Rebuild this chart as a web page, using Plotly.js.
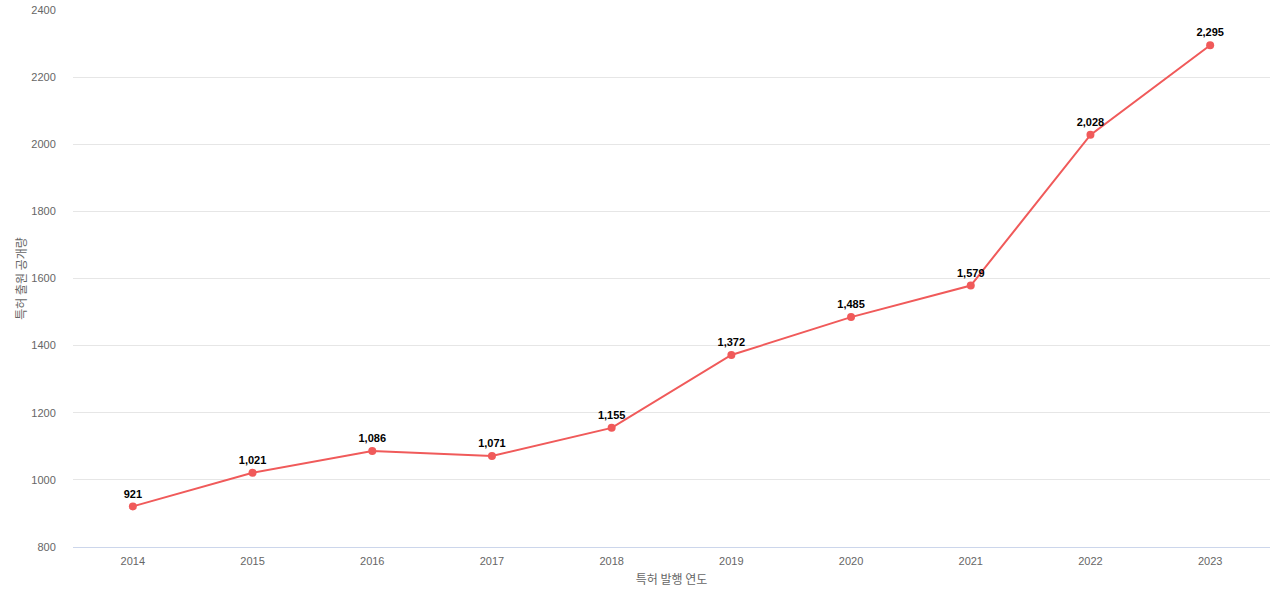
<!DOCTYPE html>
<html><head><meta charset="utf-8">
<script src="https://cdn.plot.ly/plotly-3.0.1.min.js"></script>
<style>html,body{margin:0;padding:0;background:#fff}#chart{width:1280px;height:600px}</style>
</head><body><div id="chart"></div>
<script>
const years = ['2014','2015','2016','2017','2018','2019','2020','2021','2022','2023'];
const counts = [921, 1021, 1086, 1071, 1155, 1372, 1485, 1579, 2028, 2295];
const xTitle = '특허 발행 연도';
const yTitle = '특허 출원 공개량';

const labels = counts.map(v => v.toLocaleString('en-US'));

Plotly.newPlot('chart', [{
  x: years, y: counts, type: 'scatter', mode: 'lines+markers+text',
  text: labels, textposition: 'top center',
  textfont: {family: 'Liberation Sans, Arial, sans-serif', size: 11, color: '#000', weight: 'bold'},
  line: {color: '#f05a5a', width: 2},
  marker: {color: '#f05a5a', size: 8},
  cliponaxis: false, hoverinfo: 'x+y'
}], {
  width: 1280, height: 600,
  margin: {l: 73, r: 10, t: 10, b: 53},
  paper_bgcolor: '#fff', plot_bgcolor: '#fff',
  font: {family: 'Liberation Sans, Arial, sans-serif', color: '#666666', size: 11},
  showlegend: false,
  xaxis: {
    type: 'category', range: [-0.5, 9.5],
    showgrid: false, showline: true, linecolor: '#ccd6eb', linewidth: 1,
    ticks: 'outside', ticklen: 4, tickcolor: 'rgba(0,0,0,0)',
    tickfont: {size: 11, color: '#666666'},
    title: {text: xTitle, font: {family: 'Noto Sans CJK KR, sans-serif', size: 12, color: '#666666'}, standoff: 9},
    zeroline: false
  },
  yaxis: {
    range: [800, 2400], dtick: 200, tickformat: 'd',
    gridcolor: '#e6e6e6', gridwidth: 1, showline: false, zeroline: false,
    ticks: 'outside', ticklen: 14, tickcolor: 'rgba(0,0,0,0)',
    tickfont: {size: 11, color: '#666666'},
    title: {text: yTitle, font: {family: 'Noto Sans CJK KR, sans-serif', size: 12, color: '#666666'}, standoff: 2}
  }
}, {displayModeBar: false});
</script></body></html>
